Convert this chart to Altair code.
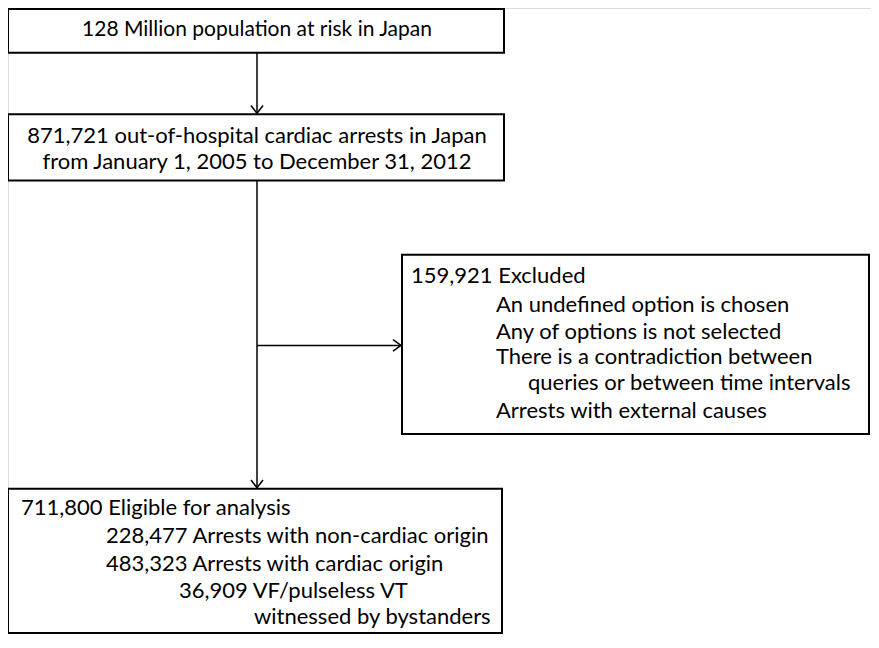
import altair as alt
import pandas as pd

# ---- text content ----
population_lines = ["128 Million population at risk in Japan"]
arrest_lines = ["871,721 out-of-hospital cardiac arrests in Japan",
                "from January 1, 2005 to December 31, 2012"]
excluded_lines = ["159,921 Excluded",
                  "An undefined option is chosen",
                  "Any of options is not selected",
                  "There is a contradiction between",
                  "queries or between time intervals",
                  "Arrests with external causes"]
eligible_lines = ["711,800 Eligible for analysis",
                  "228,477 Arrests with non-cardiac origin",
                  "483,323 Arrests with cardiac origin",
                  "36,909 VF/pulseless VT",
                  "witnessed by bystanders"]

# ---- layout (reference pixel coordinates) ----
CX = 257  # main flow centre line
boxes = pd.DataFrame({
    "x0": [8, 8, 402, 8],
    "x1": [504, 504, 869, 502],
    "y0": [6, 114, 258, 498],
    "y1": [51, 182, 442, 646],
})

texts = []
texts.append(dict(t=population_lines[0], x=CX, y=28, a="center", s=21))
for t, y in zip(arrest_lines, [136, 163]):
    texts.append(dict(t=t, x=CX, y=y, a="center", s=22))
for t, x, y in zip(excluded_lines, [411, 496, 496, 496, 528, 496],
                   [280, 310, 337, 363, 390, 418]):
    texts.append(dict(t=t, x=x, y=y, a="left", s=22))
for t, x, y in zip(eligible_lines, [21, 106, 106, 179, 254],
                   [518, 547, 575, 603, 630]):
    texts.append(dict(t=t, x=x, y=y, a="left", s=22))
texts = pd.DataFrame(texts)

# connector lines
lines = pd.DataFrame({
    "x": [CX, CX, CX],
    "y": [51, 182, 351],
    "x2": [CX, CX, 401],
    "y2": [113, 497, 351],
})
# arrowheads (open chevrons)
h, w = 8, 6
heads = pd.DataFrame({
    "x": [CX - w, CX + w, CX - w, CX + w, 401 - h, 401 - h],
    "y": [113 - h, 113 - h, 497 - h, 497 - h, 351 - w, 351 + w],
    "x2": [CX, CX, CX, CX, 401, 401],
    "y2": [113, 113, 497, 497, 351, 351],
})

X = alt.Scale(domain=[8, 871], nice=False, zero=False)
Y = alt.Scale(domain=[5, 647], nice=False, zero=False, reverse=True)

rects = alt.Chart(boxes).mark_rect(fill="white", stroke="black", strokeWidth=2).encode(
    x=alt.X("x0:Q", scale=X, axis=None), x2="x1:Q",
    y=alt.Y("y0:Q", scale=Y, axis=None), y2="y1:Q")

conn = alt.Chart(lines).mark_rule(color="black", strokeWidth=1.5).encode(
    x=alt.X("x:Q", scale=X, axis=None), x2="x2:Q",
    y=alt.Y("y:Q", scale=Y, axis=None), y2="y2:Q")

arrows = alt.Chart(heads).mark_rule(color="black", strokeWidth=1.5).encode(
    x=alt.X("x:Q", scale=X, axis=None), x2="x2:Q",
    y=alt.Y("y:Q", scale=Y, axis=None), y2="y2:Q")

def text_layer(align):
    d = texts[texts["a"] == align]
    return alt.Chart(d).mark_text(align=align, baseline="middle", font="Lato",
                                  color="black").encode(
        x=alt.X("x:Q", scale=X, axis=None),
        y=alt.Y("y:Q", scale=Y, axis=None),
        text="t:N",
        size=alt.Size("s:Q", scale=None, legend=None))

chart = alt.layer(rects, conn, arrows, text_layer("center"), text_layer("left")).properties(
    width=863, height=626, padding=0,
    autosize=alt.AutoSizeParams(type="none"),
).configure_view(stroke=None, strokeWidth=0).configure(background="white")

chart.save("out.html", embed_options={"renderer": "svg", "actions": False})
